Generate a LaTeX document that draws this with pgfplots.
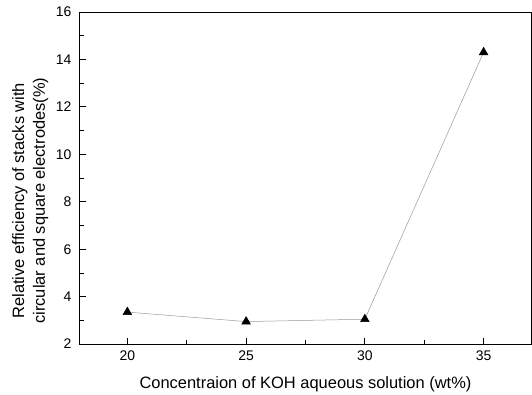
\documentclass[border=0pt]{standalone}
\usepackage{pgfplots}
\pgfplotsset{compat=1.18}
\usepackage{fontspec}
\setmainfont{Liberation Sans}
\begin{document}
\begin{tikzpicture}
\begin{axis}[
  scale only axis,
  width=451bp, height=332bp,
  xmin=18, xmax=37, ymin=2, ymax=16,
  xtick={20,25,30,35}, ytick={2,4,...,16},
  xticklabels={20,25,30,35},
  yticklabels={2,4,6,8,10,12,14,16},
  minor x tick num=1, minor y tick num=1,
  tick align=inside,
  xtick pos=bottom, ytick pos=left,
  major tick length=6bp, minor tick length=4bp,
  tick style={black, line width=0.8pt},
  axis line style={line width=0.9pt},
  xticklabel style={font=\fontsize{14}{16}\selectfont, yshift=-3.5bp},
  yticklabel style={font=\fontsize{14}{16}\selectfont, xshift=-5bp},
  xlabel={Concentraion of KOH aqueous solution (wt\%)},
  ylabel={Relative efficiency of stacks with\\circular and square electrodes(\%)},
  label style={font=\fontsize{16.5}{21}\selectfont},
  ylabel style={align=center, anchor=center, at={(axis description cs:-0.110,0.432)}},
  xlabel style={anchor=center, at={(axis description cs:0.5,-0.120)}},
  clip=false,
]
\addplot[color=gray!80, line width=0.5pt, mark=triangle*, mark size=5bp,
  mark options={fill=black, draw=black}]
  coordinates {(20,3.35) (25,2.95) (30,3.05) (35,14.3)};
\path (axis description cs:-0.177,-0.148) (axis description cs:1.002,1.036);
\end{axis}
\end{tikzpicture}
\end{document}
